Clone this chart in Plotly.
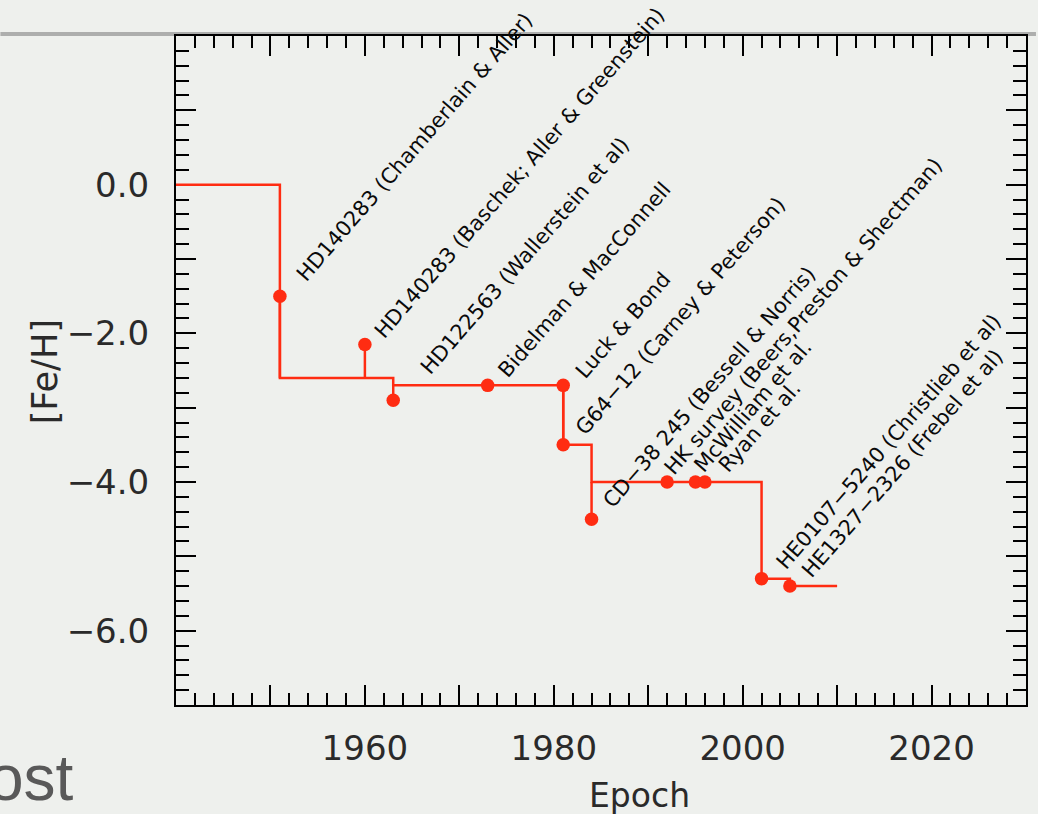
import numpy as np
import plotly.graph_objects as go

# ---- data ----
years = [1951, 1960, 1963, 1973, 1981, 1981, 1984, 1992, 1995, 1996, 2002, 2005]
feh = [-1.5, -2.15, -2.9, -2.7, -2.7, -3.5, -4.5, -4.0, -4.0, -4.0, -5.3, -5.4]
labels = [
    "HD140283 (Chamberlain & Aller)",
    "HD140283 (Baschek; Aller & Greenstein)",
    "HD122563 (Wallerstein et al)",
    "Bidelman & MacConnell",
    "Luck & Bond",
    "G64\u221212 (Carney & Peterson)",
    "CD\u221238 245 (Bessell & Norris)",
    "HK survey (Beers,Preston & Shectman)",
    "McWilliam et al.",
    "Ryan et al.",
    "HE0107\u22125240 (Christlieb et al)",
    "HE1327\u22122326 (Frebel et al)",
]
record_years = [1940, 1951, 1963, 1981, 1984, 2002, 2005, 2010]
record_feh = [0.0, -2.6, -2.7, -3.5, -4.0, -5.3, -5.4, -5.4]

x_tickvals = list(range(1940, 2031, 10))
x_ticktext = ["", "", "1960", "", "1980", "", "2000", "", "2020", ""]
y_tickvals = list(range(-7, 3))
y_ticktext = ["", "\u22126.0", "", "\u22124.0", "", "\u22122.0", "", "0.0", "", ""]

# ---- style ----
RED = "#ff2c12"
BG = "#eef0ed"
L, R, T, B = 176, 10, 36, 109
W, H = 1038, 814
PW, PH = W - L - R, H - T - B
# pixel offsets (point -> label start)
label_offsets = [(21, -15), (14, -6), (32, -25), (15, -7), (17, -7), (17, -10),
                 (16, -11), (2, -7), (3, -9), (18, -9), (19, -9), (17, -8)]

# spikes from each point to the record level at that epoch
ry = np.array(record_years)
rf = np.array(record_feh)
sx, sy = [], []
for yr, f in zip(years, feh):
    j = np.where(ry <= yr)[0].max()
    sx += [yr, yr, None]
    sy += [rf[j], f, None]

fig = go.Figure()
fig.add_trace(go.Scatter(x=record_years, y=record_feh, mode="lines",
                         line=dict(color=RED, width=2.5, shape="hv"),
                         hoverinfo="skip", showlegend=False))
fig.add_trace(go.Scatter(x=sx, y=sy, mode="lines",
                         line=dict(color=RED, width=2.5),
                         hoverinfo="skip", showlegend=False))
fig.add_trace(go.Scatter(x=years, y=feh, mode="markers",
                         marker=dict(color=RED, size=13.5),
                         showlegend=False))

def px2paper_x(p):
    return (p - L) / PW

def px2paper_y(p):
    return (H - B - p) / PH

annotations = []
for yr, f, lab, (dx, dy) in zip(years, feh, labels, label_offsets):
    annotations.append(dict(
        x=yr, y=f, xref="x", yref="y", text=lab, showarrow=False,
        textangle=-49, xanchor="left", yanchor="bottom",
        xshift=dx - 12, yshift=-dy - 7,
        font=dict(family="DejaVu Sans", size=21, color="#0a0a0a")))

annotations.append(dict(x=px2paper_x(641), y=px2paper_y(795), xref="paper", yref="paper",
                        text="Epoch", showarrow=False, xanchor="center", yanchor="middle",
                        font=dict(family="DejaVu Sans", size=33, color="#2a2a2a")))
annotations.append(dict(x=px2paper_x(45), y=px2paper_y(372), xref="paper", yref="paper",
                        text="[Fe/H]", showarrow=False, xanchor="center", yanchor="middle",
                        textangle=-90,
                        font=dict(family="DejaVu Sans", size=35, color="#2a2a2a")))
annotations.append(dict(x=px2paper_x(76), y=px2paper_y(816), xref="paper", yref="paper",
                        text="ost", showarrow=False, xanchor="right", yanchor="bottom",
                        font=dict(family="Liberation Sans Narrow, Liberation Sans, sans-serif",
                                  size=64, color="#595959")))

axis_common = dict(showline=True, linewidth=2, linecolor="black", mirror="ticks",
                   ticks="inside", tickwidth=2, tickcolor="black", ticklen=20,
                   showgrid=False, zeroline=False, tickmode="array",
                   layer="below traces")

fig.update_layout(
    width=W, height=H,
    margin=dict(l=L, r=R, t=T, b=B, pad=0),
    paper_bgcolor=BG, plot_bgcolor=BG,
    xaxis=dict(range=[1940, 2030], tickvals=x_tickvals, ticktext=x_ticktext,
               ticklabelstandoff=12,
               tickfont=dict(family="DejaVu Sans", size=34, color="#2a2a2a"),
               minor=dict(dtick=2, tick0=1940, ticks="inside", ticklen=12,
                          tickwidth=2, tickcolor="black"),
               **axis_common),
    yaxis=dict(range=[-7, 2], tickvals=y_tickvals, ticktext=y_ticktext,
               ticklabelstandoff=18,
               tickfont=dict(family="DejaVu Sans", size=34, color="#2a2a2a"),
               minor=dict(dtick=0.2, tick0=0, ticks="inside", ticklen=13,
                          tickwidth=2, tickcolor="black"),
               **axis_common),
    annotations=annotations,
    shapes=[dict(type="line", xref="paper", yref="paper",
                 x0=px2paper_x(0), x1=px2paper_x(W), y0=px2paper_y(34), y1=px2paper_y(34),
                 line=dict(color="rgba(130,130,130,0.6)", width=4), layer="below")],
)

fig.write_html("out.html",
               config={"displayModeBar": False},
               post_script="document.body.style.margin='0px';"
                           "document.body.style.background='#eef0ed';")
